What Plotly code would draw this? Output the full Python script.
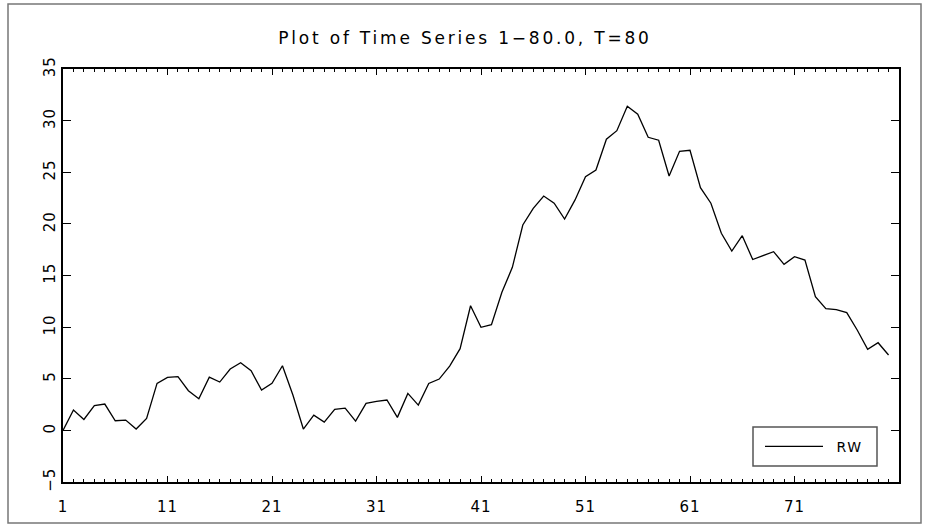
import plotly.graph_objects as go

t = list(range(1, 81))
rw = [0.0, 1.97, 1.06, 2.39, 2.55, 0.93, 1.0, 0.13, 1.16, 4.55,
      5.13, 5.2, 3.84, 3.07, 5.16, 4.68, 5.94, 6.55, 5.78, 3.9,
      4.55, 6.26, 3.42, 0.13, 1.48, 0.8, 2.03, 2.16, 0.9, 2.61,
      2.81, 2.94, 1.26, 3.58, 2.45, 4.55, 4.97, 6.23, 7.91, 12.07,
      9.98, 10.23, 13.37, 15.79, 19.89, 21.5, 22.7, 22.0, 20.47, 22.32,
      24.57, 25.22, 28.2, 29.03, 31.4, 30.62, 28.39, 28.1, 24.64, 27.03,
      27.13, 23.51, 22.0, 19.09, 17.37, 18.86, 16.55, 16.92, 17.31, 16.08,
      16.82, 16.5, 12.95, 11.79, 11.69, 11.4, 9.72, 7.85, 8.49, 7.3]

title_text = "Plot of Time Series 1\u221280.0, T=80"
series_name = "RW"
x_ticks = [1, 11, 21, 31, 41, 51, 61, 71]
y_ticks = [-5, 0, 5, 10, 15, 20, 25, 30, 35]

FONT = "DejaVu Sans"
L, R, T, B = 63, 899, 69, 482
PW, PH = R - L, B - T

def px(x):
    return (x - L) / PW

def py(y):
    return (B - y) / PH

fig = go.Figure()
fig.add_trace(go.Scatter(x=t, y=rw, mode="lines", name="\u2002" + series_name,
                         line=dict(color="black", width=1.3)))

fig.update_layout(
    width=928, height=525, autosize=False,
    margin=dict(l=L, r=928 - R, t=T, b=525 - B, pad=0, autoexpand=False),
    paper_bgcolor="white", plot_bgcolor="white",
    font=dict(family=FONT, color="black", size=14),
    title=dict(text=title_text, x=465/928, xanchor="center", xref="container",
               y=1-38/525, yanchor="middle", yref="container", automargin=False,
               font=dict(family=FONT, size=17, color="black")),
    showlegend=True,
    legend=dict(x=px(760), y=py(446.7), xanchor="left", yanchor="middle",
                borderwidth=0, bgcolor="rgba(0,0,0,0)",
                font=dict(family=FONT, size=14, color="black"),
                itemwidth=58, itemclick=False, itemdoubleclick=False),
    xaxis=dict(range=[1, 81], tickmode="array", tickvals=x_ticks,
               ticktext=[str(v) for v in x_ticks], automargin=False,
               ticks="inside", ticklen=6, tickwidth=1, tickcolor="black",
               showline=True, linecolor="black", linewidth=2, mirror="allticks",
               showgrid=False, zeroline=False,
               minor=dict(dtick=1, tick0=1, ticks="inside", ticklen=3,
                          tickwidth=1, tickcolor="black", showgrid=False),
               tickfont=dict(family=FONT, size=15), ticklabelstandoff=10),
    yaxis=dict(range=[-5, 35], tickmode="array", tickvals=y_ticks,
               ticktext=[("\u2212" + str(-v)) if v < 0 else str(v) for v in y_ticks],
               automargin=False,
               ticks="inside", ticklen=8, tickwidth=1, tickcolor="black",
               showline=True, linecolor="black", linewidth=2, mirror="ticks",
               showgrid=False, zeroline=False, tickangle=-90,
               tickfont=dict(family=FONT, size=15), ticklabelstandoff=0),
)

# outer frame
fig.add_shape(type="rect", xref="paper", yref="paper",
              x0=px(8), x1=px(921), y0=py(523), y1=py(4),
              line=dict(color="#777777", width=1.5), fillcolor="rgba(0,0,0,0)",
              layer="below")
# legend box
fig.add_shape(type="rect", xref="paper", yref="paper",
              x0=px(753), x1=px(877), y0=py(466), y1=py(427),
              line=dict(color="#555555", width=1.5), fillcolor="white",
              layer="above")

post = """
document.documentElement.style.margin = '0';
document.documentElement.style.overflow = 'hidden';
document.body.style.margin = '0';
document.body.style.overflow = 'hidden';
var gd = document.getElementById('{plot_id}');
function spacing() {
  gd.querySelectorAll('.gtitle').forEach(function(e){ e.style.letterSpacing = '2.8px'; });
  gd.querySelectorAll('.xtick text, .ytick text').forEach(function(e){ e.style.letterSpacing = '1px'; });
  gd.querySelectorAll('.legendtext').forEach(function(e){ e.style.letterSpacing = '1.5px'; });
}
spacing();
if (gd.on) { gd.on('plotly_afterplot', spacing); }
"""

fig.write_html("out.html", post_script=post,
               config={"displayModeBar": False, "staticPlot": True})
